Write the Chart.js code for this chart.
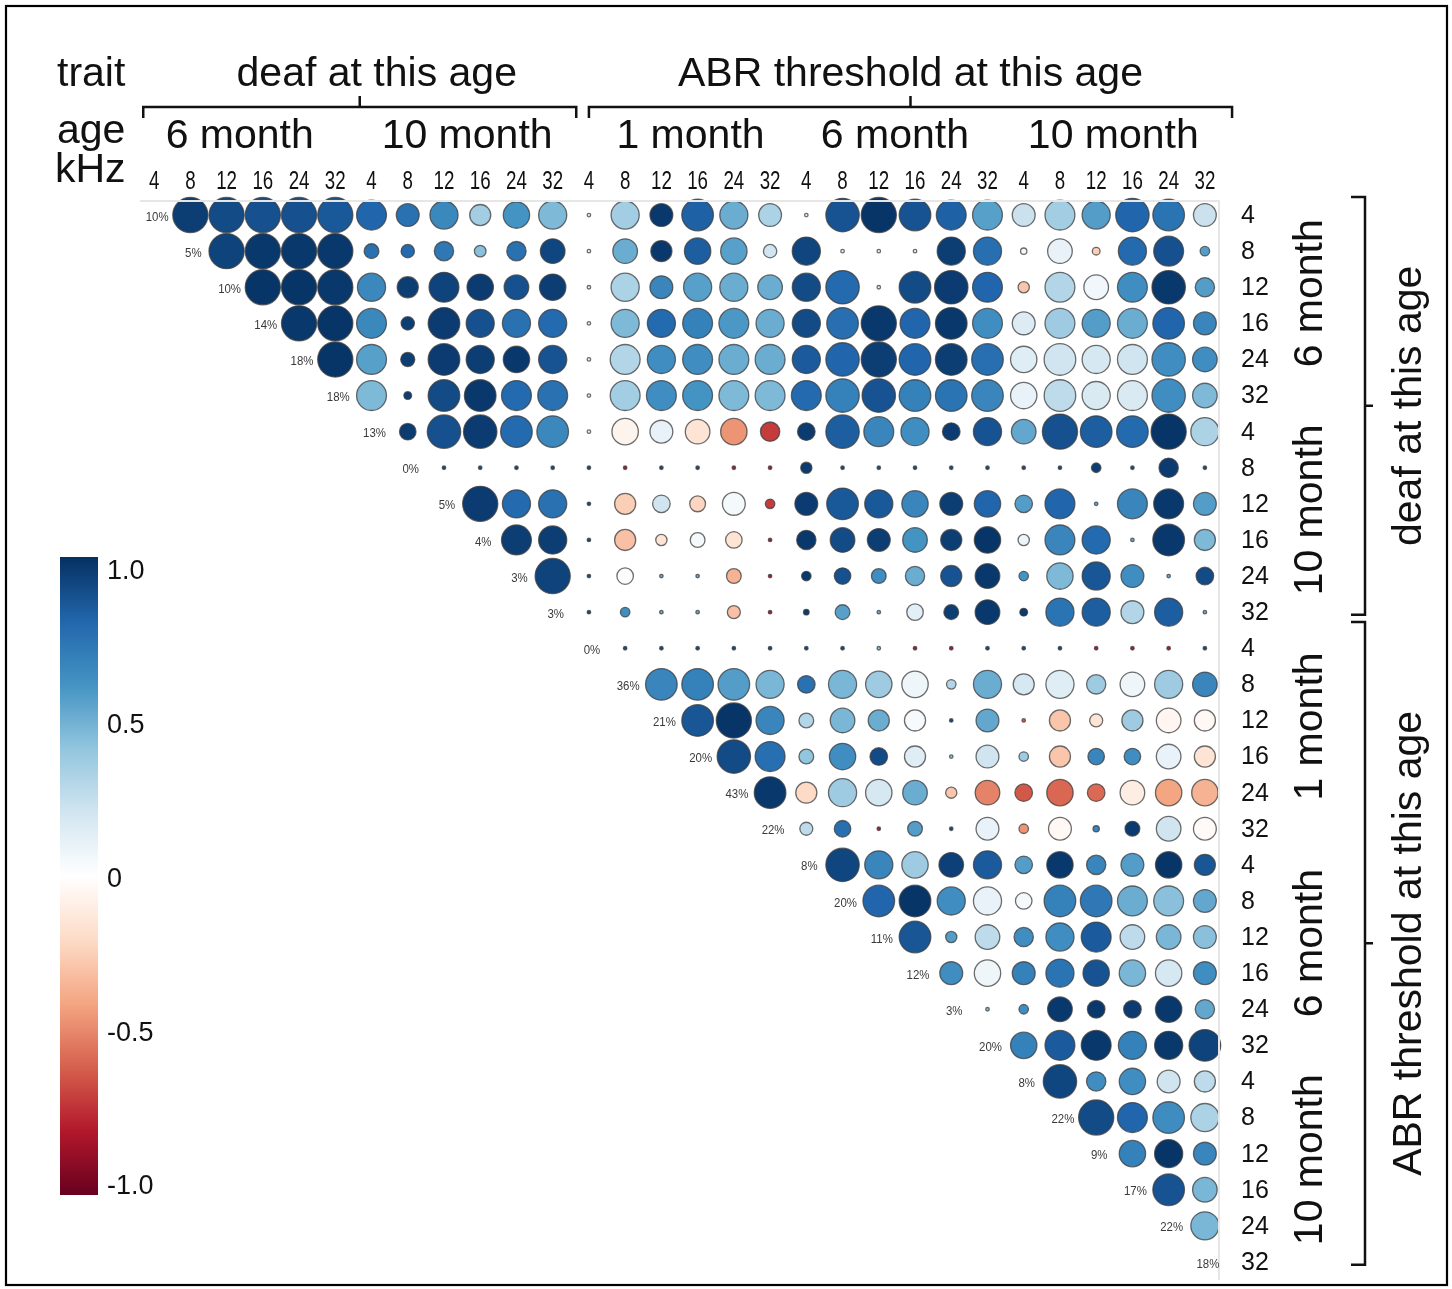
<!DOCTYPE html>
<html><head><meta charset="utf-8">
<script src="https://cdn.jsdelivr.net/npm/chart.js@4.4.1/dist/chart.umd.min.js"></script>
<style>html,body{margin:0;padding:0;background:#fff}#wrap{width:1452px;height:1289px;position:relative}</style>
</head><body><div id="wrap"><canvas id="c"></canvas></div>
<script>
// ---------- DATA ----------
const freqLabels = ['4','8','12','16','24','32'];
const traitNames = ['deaf at this age', 'ABR threshold at this age'];
const traitAges = [['6 month','10 month'], ['1 month','6 month','10 month']];
const heritability = [10,5,10,14,18,18, 13,0,5,4,3,3, 0,36,21,20,43,22, 8,20,11,12,3,20, 8,22,9,17,22,18];
const colorbarTicks = [1.0, 0.5, 0, -0.5, -1.0];
const colorbarLabels = ['1.0','0.5','0','-0.5','-1.0'];

// correlation (colour), row i holds columns i+1 .. 29
const corr = [
 [.95,.9,.88,.88,.85,.8,.75,.65,.35,.6,.45,.1,.35,.97,.82,.5,.32,.1,.87,.98,.87,.82,.55,.22,.35,.56,.8,.74,.22],
 [.93,.97,.97,.97,.75,.78,.72,.42,.75,.92,.1,.5,.97,.83,.55,.2,.92,.1,.1,.1,.95,.76,.05,.1,-.25,.78,.88,.56],
 [.98,.98,.97,.65,.95,.93,.96,.88,.95,.1,.32,.66,.55,.5,.5,.9,.78,.1,.9,.96,.8,-.28,.3,.06,.62,.97,.56],
 [.97,.98,.65,.95,.96,.88,.75,.78,.1,.45,.78,.68,.58,.5,.9,.76,.97,.8,.97,.62,.15,.36,.56,.5,.8,.66],
 [.98,.55,.95,.96,.95,.97,.87,.1,.3,.62,.62,.5,.5,.84,.8,.95,.8,.95,.76,.14,.2,.18,.2,.62,.62],
 [.45,.95,.9,.97,.78,.75,.1,.35,.62,.6,.45,.45,.78,.68,.87,.68,.74,.66,.1,.26,.16,.16,.62,.45],
 [.96,.88,.96,.78,.65,.1,-.06,.1,-.15,-.45,-.7,.96,.83,.66,.62,.96,.87,.52,.88,.83,.78,.98,.32],
 [.9,.9,.9,.9,.9,-.8,.9,.9,-.8,-.8,.96,.9,.9,.9,.9,.9,.9,.9,.95,.9,.96,.9],
 [.96,.78,.75,.9,-.25,.2,-.22,.05,-.7,.96,.85,.85,.66,.95,.8,.56,.8,.5,.66,.97,.56],
 [.95,.95,.9,-.3,-.15,.05,-.15,-.8,.97,.9,.95,.6,.95,.98,.08,.66,.78,.5,.97,.45],
 [.93,.9,.02,.5,.5,-.35,-.8,.97,.88,.62,.5,.87,.97,.6,.45,.86,.62,.5,.9],
 [.9,.62,.5,.5,-.3,-.8,.96,.55,.5,.12,.95,.97,.96,.74,.83,.3,.83,.5],
 [.9,.9,.9,.9,.9,.9,.9,.4,-.8,-.8,.9,.9,.9,-.8,-.8,-.8,.9],
 [.66,.68,.56,.46,.75,.46,.36,.07,.3,.5,.18,.14,.36,.07,.36,.66],
 [.86,.98,.66,.3,.46,.5,.04,.9,.52,-.6,-.28,-.15,.36,-.05,-.04],
 [.9,.76,.4,.62,.9,.14,.4,.2,.36,-.28,.66,.62,.1,-.15],
 [.97,-.2,.36,.18,.5,-.28,-.5,-.62,-.58,-.57,-.1,-.4,-.35],
 [.26,.76,-.8,.56,.9,.1,-.45,-.04,.66,.96,.2,-.03],
 [.92,.66,.36,.94,.84,.56,.97,.66,.56,.98,.86],
 [.8,.98,.62,.1,.05,.68,.72,.5,.42,.52],
 [.86,.56,.26,.62,.62,.84,.26,.46,.42],
 [.62,.07,.68,.74,.87,.46,.18,.62],
 [.4,.62,.97,.97,.96,.97,.52],
 [.68,.84,.97,.68,.97,.93],
 [.92,.62,.62,.2,.26],
 [.9,.8,.63,.32],
 [.68,.98,.66],
 [.87,.46],
 [.46],
 []
];
// significance weight (circle size, 0..1), same layout
const signif = [
 [1,1,1,1,1,.85,.65,.8,.6,.75,.8,.1,.8,.65,.9,.8,.65,.1,.95,1,.9,.85,.85,.65,.85,.8,.95,.9,.65],
 [1,1,1,1,.42,.38,.55,.33,.55,.7,.1,.7,.6,.75,.75,.38,.8,.1,.1,.1,.8,.8,.18,.7,.22,.8,.85,.27],
 [1,1,1,.8,.6,.85,.75,.7,.75,.1,.8,.65,.8,.8,.7,.8,.95,.1,.9,.95,.85,.32,.85,.7,.85,.95,.55],
 [1,1,.85,.38,.9,.8,.8,.8,.1,.8,.8,.85,.85,.8,.8,.9,1,.85,.9,.85,.65,.85,.8,.85,.9,.65],
 [1,.85,.4,.9,.8,.75,.8,.1,.85,.8,.85,.85,.85,.8,.95,1,.9,.9,.9,.75,.9,.8,.85,.95,.7],
 [.85,.22,.9,.9,.85,.85,.1,.85,.85,.85,.85,.85,.85,.95,.95,.9,.9,.9,.75,.9,.8,.85,.95,.7],
 [.47,.95,.95,.9,.9,.1,.75,.65,.7,.75,.55,.5,.95,.85,.8,.5,.8,.7,1,.9,.9,1,.8],
 [.1,.1,.1,.1,.1,.1,.1,.1,.1,.1,.32,.1,.1,.1,.1,.1,.1,.1,.27,.1,.55,.1],
 [1,.8,.8,.1,.6,.5,.45,.65,.27,.65,.9,.8,.75,.65,.75,.5,.85,.1,.85,.85,.65],
 [.85,.8,.1,.6,.32,.42,.47,.1,.55,.7,.65,.7,.6,.75,.32,.85,.8,.1,.9,.6],
 [1,.1,.47,.1,.1,.42,.1,.27,.47,.42,.55,.6,.7,.27,.75,.8,.65,.1,.5],
 [.1,.27,.1,.1,.37,.1,.16,.42,.1,.47,.42,.7,.22,.8,.8,.65,.8,.1],
 [.1,.1,.1,.1,.1,.1,.1,.1,.1,.1,.1,.1,.1,.1,.1,.1,.1],
 [.9,.9,.9,.8,.5,.8,.75,.75,.27,.8,.6,.8,.55,.7,.8,.7],
 [.9,1,.8,.42,.7,.6,.6,.1,.65,.1,.6,.37,.6,.7,.6],
 [.95,.85,.42,.75,.5,.6,.1,.65,.27,.6,.47,.47,.7,.6],
 [.9,.6,.8,.75,.7,.32,.7,.5,.75,.5,.7,.75,.75],
 [.37,.47,.1,.42,.1,.65,.27,.65,.18,.42,.7,.65],
 [.95,.8,.75,.7,.8,.5,.75,.55,.65,.75,.6],
 [.9,.9,.8,.8,.47,.9,.9,.85,.85,.65],
 [.9,.32,.7,.55,.8,.85,.7,.7,.65],
 [.65,.75,.65,.8,.75,.75,.75,.65],
 [.1,.27,.7,.5,.5,.75,.55],
 [.75,.85,.85,.8,.8,.9],
 [.95,.55,.75,.65,.6],
 [1,.85,.9,.8],
 [.75,.8,.65],
 [.9,.7],
 [.8],
 []
];

// ---------- HELPERS ----------
const RDBU = ['#67001F','#B2182B','#D6604D','#F4A582','#FDDBC7','#FFFFFF','#D1E5F0','#92C5DE','#4393C3','#2166AC','#053061'];
function hex2rgb(h){return [parseInt(h.slice(1,3),16),parseInt(h.slice(3,5),16),parseInt(h.slice(5,7),16)];}
function colorFor(v){
  const t=(Math.max(-1,Math.min(1,v))+1)/2*10;
  const i=Math.min(9,Math.floor(t)); const f=t-i;
  const a=hex2rgb(RDBU[i]), b=hex2rgb(RDBU[i+1]);
  return 'rgb('+a.map((c,k)=>Math.round(c+(b[k]-c)*f)).join(',')+')';
}
const nTraits = heritability.length;
const points = [];
for (let i=0;i<nTraits;i++){
  corr[i].forEach((v,k)=>{ points.push({x:i+1+k, y:i, v:v, s:signif[i][k]}); });
}
const SANS = "'Liberation Sans', Arial, sans-serif";
function halfCell(chart){
  const xs=chart.scales && chart.scales.x;
  if(!xs) return 17;
  const h=(xs.getPixelForValue(1)-xs.getPixelForValue(0))/2;
  return isFinite(h)&&h>0 ? h : 17;
}
// label nudges (style only)
const topAgeDx = [-5, 5, 11, -2, -1];
const titleDx = [17, 0];

// ---------- DECORATION PLUGIN ----------
const deco = {
  id:'deco',
  beforeDraw(chart){
    const c=chart.ctx; c.save(); c.fillStyle='#fff'; c.fillRect(0,0,chart.width,chart.height); c.restore();
  },
  afterDatasetsDraw(chart){
    const c=chart.ctx, xs=chart.scales.x, ys=chart.scales.y, a=chart.chartArea;
    const px=v=>xs.getPixelForValue(v), py=v=>ys.getPixelForValue(v);
    c.save();
    // faint plot border (top & right)
    c.strokeStyle='#e6e6e6'; c.lineWidth=2;
    c.beginPath(); c.moveTo(a.left+4,a.top+4); c.lineTo(a.right-4,a.top+4); c.lineTo(a.right-4,a.bottom); c.stroke();
    // diagonal heritability labels
    c.fillStyle='#3a3a3a'; c.textAlign='center'; c.textBaseline='middle';
    c.font="13px "+SANS;
    heritability.forEach((h,i)=>{
      c.save(); c.translate(px(i)+3,py(i)+2); c.scale(0.88,1); c.fillText(h+'%',0,0); c.restore();
    });
    // top frequency ticks
    c.fillStyle='#111'; c.font="26px "+SANS; c.textBaseline='alphabetic';
    for(let i=0;i<nTraits;i++){
      c.save(); c.translate(px(i),189); c.scale(0.72,1); c.fillText(freqLabels[i%6],0,0); c.restore();
    }
    // right frequency ticks
    c.textAlign='left'; c.textBaseline='middle'; c.font="25px "+SANS;
    for(let i=0;i<nTraits;i++){ c.fillText(freqLabels[i%6],1241,py(i)+1); }
    // header texts
    c.font="41px "+SANS; c.textBaseline='alphabetic';
    c.textAlign='left';
    c.fillText('trait',57,86); c.fillText('age',57,143); c.fillText('kHz',55,182);
    c.textAlign='center';
    let g=0, n=0;
    traitNames.forEach((tn,ti)=>{
      const ages=traitAges[ti];
      ages.forEach((ag,ai)=>{
        const s=g+ai*6;
        c.fillText(ag,(px(s)+px(s+5))/2+topAgeDx[n],148); n++;
      });
      g+=ages.length*6;
    });
    // top brackets
    c.lineWidth=2.5; c.strokeStyle='#111';
    const topBr=[[px(-0.3),px(11.65)],[px(12.0),px(29.75)]];
    topBr.forEach((b,ti)=>{
      const y=107, m=(b[0]+b[1])/2;
      c.beginPath(); c.moveTo(b[0],118); c.lineTo(b[0],y); c.lineTo(b[1],y); c.lineTo(b[1],118);
      c.moveTo(m,y); c.lineTo(m,96); c.stroke();
      c.fillText(traitNames[ti],m+titleDx[ti],86);
    });
    // right brackets
    const rBr=[[py(-0.5),py(11.07)],[py(11.27),py(29.08)]];
    const bx=1365;
    rBr.forEach((b,ti)=>{
      const m=(b[0]+b[1])/2;
      c.beginPath(); c.moveTo(bx-14,b[0]); c.lineTo(bx,b[0]); c.lineTo(bx,b[1]); c.lineTo(bx-14,b[1]);
      c.moveTo(bx,m); c.lineTo(bx+8,m); c.stroke();
      c.save(); c.translate(1421,m); c.rotate(-Math.PI/2); c.fillText(traitNames[ti],0,0); c.restore();
    });
    // right age labels (rotated)
    g=0;
    traitNames.forEach((tn,ti)=>{
      traitAges[ti].forEach((ag,ai)=>{
        const s=g+ai*6; const m=(py(s)+py(s+5))/2;
        c.save(); c.translate(1322,m-12); c.rotate(-Math.PI/2); c.fillText(ag,0,0); c.restore();
      });
      g+=traitAges[ti].length*6;
    });
    // colorbar
    const cbTop=557, cbBot=1195, cbL=60, cbW=38;
    const grad=c.createLinearGradient(0,cbTop,0,cbBot);
    for(let k=0;k<=40;k++){ const v=1-k/20; grad.addColorStop(k/40,colorFor(v)); }
    c.fillStyle=grad; c.fillRect(cbL,cbTop,cbW,cbBot-cbTop);
    c.fillStyle='#111'; c.font="27px "+SANS; c.textAlign='left'; c.textBaseline='middle';
    colorbarTicks.forEach((t,k)=>{ c.fillText(colorbarLabels[k],107,572+(1-t)*307.5); });
    // outer frame
    c.strokeStyle='#000'; c.lineWidth=2.2;
    c.strokeRect(6,6,1441,1279);
    c.restore();
  }
};

new Chart(document.getElementById('c'),{
  type:'scatter',
  data:{datasets:[{
    data:points,
    showLine:false,
    clip:false,
    pointBackgroundColor:ctx=>ctx.raw ? colorFor(ctx.raw.v) : '#888',
    pointBorderColor:'rgba(60,60,60,0.75)',
    pointBorderWidth:1.3,
    pointRadius:ctx=>ctx.raw ? Math.max(1.6, ctx.raw.s*halfCell(ctx.chart)*0.97) : 3,
    pointHoverRadius:ctx=>ctx.raw ? Math.max(1.6, ctx.raw.s*halfCell(ctx.chart)*0.97) : 3
  }]},
  options:{
    responsive:true, maintainAspectRatio:false, animation:false, events:[],
    layout:{autoPadding:false, padding:{left:136,right:229,top:197,bottom:9}},
    scales:{
      x:{type:'linear',min:-0.5,max:29.5,display:false},
      y:{type:'linear',min:-0.5,max:29.5,reverse:true,display:false}
    },
    plugins:{legend:{display:false},tooltip:{enabled:false}}
  },
  plugins:[deco]
});
</script></body></html>
